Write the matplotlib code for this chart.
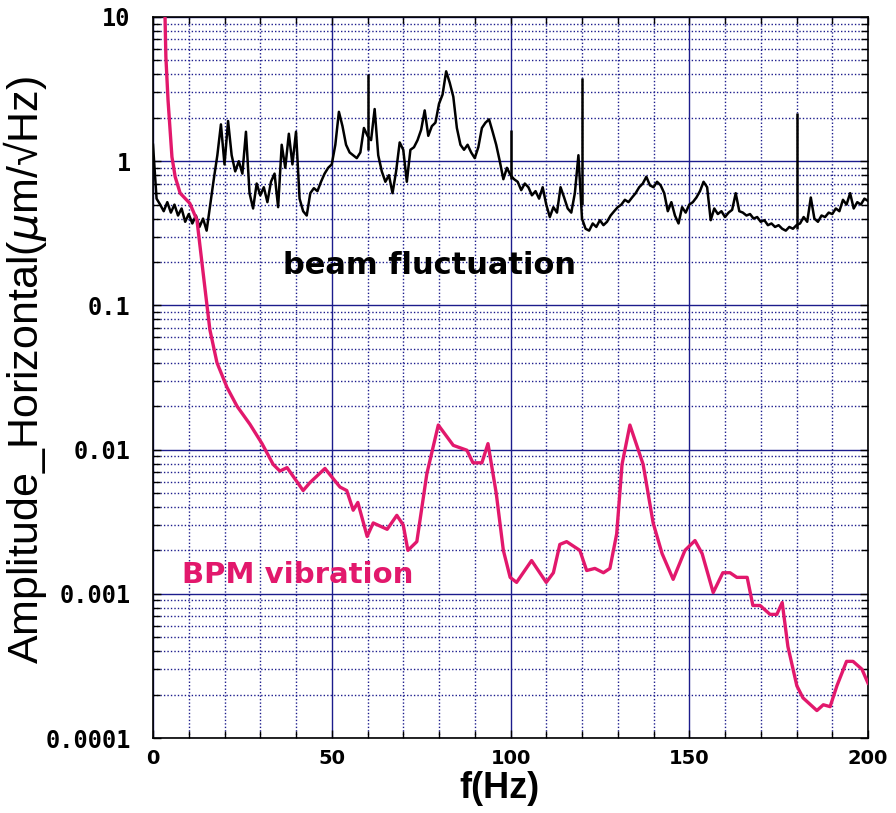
import matplotlib
matplotlib.use("Agg")
import matplotlib.pyplot as plt
from matplotlib.ticker import LogLocator, MultipleLocator, FixedLocator, NullFormatter

# BPM vibration (pink)
bpm_f = [3.3, 3.6, 4.2, 5.3, 6.2, 7.6, 10.3, 12.3, 14.0, 15.9, 17.9, 20.7, 23.5, 27.1,
         30.5, 33.6, 35.5, 37.5, 42.0, 43.9, 48.1, 52.3, 54.2, 56.0, 57.3, 59.9, 61.6,
         65.5, 68.2, 70.0, 71.3, 73.8, 76.6, 79.8, 84.0, 87.8, 89.5, 92.0, 93.7, 96.0,
         98.0, 99.9, 101.7, 105.9, 110.0, 112.0, 113.8, 115.7, 119.4, 121.3, 123.6,
         126.0, 127.8, 129.7, 131.2, 133.4, 137.1, 139.9, 142.4, 145.5, 148.8, 151.6,
         153.6, 156.7, 159.4, 161.4, 163.3, 166.2, 167.8, 169.8, 172.6, 174.5, 176.0,
         177.6, 180.1, 181.8, 185.7, 187.5, 189.4, 191.3, 194.0, 195.8, 198.3, 200.0]
bpm_amp = [12, 5.3, 2.66, 1.07, 0.78, 0.6, 0.51, 0.39, 0.17, 0.068, 0.040, 0.027, 0.020,
           0.015, 0.011, 0.0079, 0.0071, 0.0075, 0.0052, 0.0059, 0.0074, 0.0055, 0.0052,
           0.0038, 0.0043, 0.0025, 0.0031, 0.0028, 0.0035, 0.0030, 0.0020, 0.0023,
           0.0068, 0.0148, 0.0107, 0.0099, 0.0081, 0.0081, 0.011, 0.005, 0.0020, 0.0013,
           0.0012, 0.0017, 0.0012, 0.0014, 0.0022, 0.0023, 0.0020, 0.00145, 0.0015,
           0.0014, 0.0015, 0.0026, 0.0079, 0.0148, 0.0079, 0.0031, 0.0019, 0.00126,
           0.0020, 0.00234, 0.0019, 0.00102, 0.0014, 0.0014, 0.0013, 0.0013, 0.00083,
           0.00083, 0.00072, 0.00072, 0.00087, 0.00043, 0.00023, 0.00019, 0.000155,
           0.00017, 0.000165, 0.00023, 0.00034, 0.00034, 0.00030, 0.00024]

# beam fluctuation (black), 1 Hz steps 0..200
beam_f = list(range(0, 201))
beam_amp = [1.3, 0.55, 0.5, 0.45, 0.52, 0.44, 0.5, 0.42, 0.47, 0.38,
            0.43, 0.37, 0.42, 0.35, 0.40, 0.33, 0.5, 0.75, 1.1, 1.8,
            0.95, 1.9, 1.1, 0.85, 1.0, 0.82, 1.6, 0.6, 0.47, 0.7,
            0.58, 0.66, 0.52, 0.72, 0.82, 0.48, 1.3, 0.9, 1.55, 0.95,
            1.6, 0.55, 0.45, 0.42, 0.6, 0.65, 0.62, 0.72, 0.82, 0.9,
            0.95, 1.3, 2.2, 1.75, 1.3, 1.15, 1.1, 1.05, 1.15, 1.7,
            1.5, 1.4, 2.3, 1.1, 0.85, 0.72, 0.8, 0.6, 0.85, 1.35,
            1.2, 0.72, 1.2, 1.25, 1.4, 1.65, 2.25, 1.5, 1.75, 1.85,
            2.5, 2.9, 4.2, 3.5, 2.8, 1.7, 1.3, 1.2, 1.3, 1.15,
            1.05, 1.25, 1.7, 1.85, 1.95, 1.6, 1.3, 1.0, 0.75, 0.9,
            0.8, 0.75, 0.72, 0.63, 0.7, 0.66, 0.58, 0.62, 0.55, 0.66,
            0.5, 0.41, 0.48, 0.44, 0.66, 0.56, 0.47, 0.44, 0.6, 1.1,
            0.4, 0.34, 0.33, 0.37, 0.35, 0.39, 0.36, 0.38, 0.42, 0.45,
            0.48, 0.5, 0.54, 0.52, 0.56, 0.6, 0.66, 0.7, 0.78, 0.68,
            0.66, 0.72, 0.68, 0.6, 0.45, 0.52, 0.42, 0.37, 0.48, 0.44,
            0.5, 0.52, 0.56, 0.62, 0.72, 0.66, 0.39, 0.47, 0.43, 0.45,
            0.41, 0.44, 0.46, 0.6, 0.45, 0.44, 0.42, 0.43, 0.4, 0.41,
            0.38, 0.39, 0.36, 0.37, 0.35, 0.36, 0.34, 0.33, 0.35, 0.34,
            0.36, 0.37, 0.41, 0.38, 0.56, 0.4, 0.38, 0.42, 0.41, 0.44,
            0.43, 0.47, 0.45, 0.54, 0.5, 0.6, 0.47, 0.52, 0.5, 0.55,
            0.53]

# narrow line spikes in the beam spectrum
spike_f = [60, 100, 120, 180]
spike_lo = [1.2, 0.75, 0.5, 0.34]
spike_hi = [4.0, 1.65, 3.8, 2.15]

x_ticks = [0, 50, 100, 150, 200]
y_ticks = [1e-4, 1e-3, 1e-2, 1e-1, 1, 10]
y_labels = ["0.0001", "0.001", "0.01", "0.1", "1", "10"]

grid_c = "#1c1c8c"
pink = "#e2186c"

fig = plt.figure(figsize=(8.96, 8.13), dpi=100)
ax = fig.add_axes([153 / 896, 1 - 738 / 813, 715 / 896, 721 / 813])

ax.set_yscale("log")
ax.set_xlim(0, 200)
ax.set_ylim(1e-4, 10)

ax.xaxis.set_major_locator(FixedLocator(x_ticks))
ax.xaxis.set_minor_locator(MultipleLocator(10))
ax.yaxis.set_major_locator(FixedLocator(y_ticks))
ax.yaxis.set_minor_locator(LogLocator(base=10, subs=range(2, 10)))
ax.yaxis.set_minor_formatter(NullFormatter())
ax.set_xticklabels([str(v) for v in x_ticks])
ax.set_yticklabels(y_labels)

ax.grid(True, which="major", color=grid_c, lw=1.0, ls="-")
ax.grid(True, which="minor", color=grid_c, lw=1.0, ls=(0, (1, 1.5)))
ax.set_axisbelow(True)

ax.tick_params(which="both", direction="in", top=True, right=True, color="black")
ax.tick_params(which="major", length=6, width=1)
ax.tick_params(which="minor", length=5, width=1)
ax.tick_params(axis="x", pad=8)
ax.tick_params(axis="y", pad=16)
for lab in ax.get_xticklabels():
    lab.set_fontfamily("DejaVu Sans")
    lab.set_fontweight("bold")
    lab.set_fontsize(14)
for lab in ax.get_yticklabels():
    lab.set_fontfamily("DejaVu Sans Mono")
    lab.set_fontweight("bold")
    lab.set_fontsize(17)
for s in ax.spines.values():
    s.set_color("black")
    s.set_linewidth(1.2)

ax.plot(beam_f, beam_amp, color="black", lw=1.8, zorder=3)
ax.vlines(spike_f, spike_lo, spike_hi, color="black", lw=1.8, zorder=3)
ax.plot(bpm_f, bpm_amp, color=pink, lw=2.4, zorder=4)

ax.text(36.4, 0.19, "beam fluctuation", fontsize=22, fontweight="bold",
        color="black", va="center", ha="left", zorder=5)
ax.text(8.1, 0.00134, "BPM vibration", fontsize=21, fontweight="bold",
        color=pink, va="center", ha="left", zorder=5)

ax.set_xlabel("f(Hz)", fontsize=26, fontweight="bold", fontfamily="Liberation Sans")
ax.xaxis.set_label_coords(0.484, -0.046)
ax.set_ylabel(r"Amplitude_Horizontal($\mu$m/√Hz)", fontsize=31,
              fontfamily="Liberation Sans")
ax.yaxis.set_label_coords(-0.145, 0.51)

fig.savefig("out.png", dpi=100, facecolor="white")
